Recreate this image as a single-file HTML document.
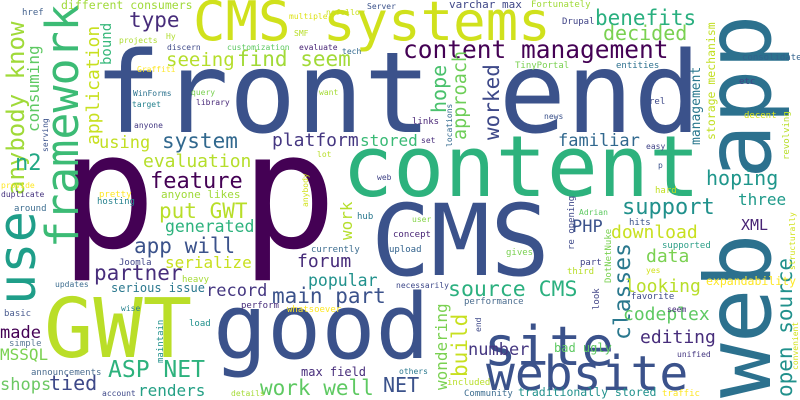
<!DOCTYPE html>
<html><head><meta charset="utf-8"><style>
html,body{margin:0;padding:0;background:#fff;}
svg{display:block;}
text{font-family:"DejaVu Sans Mono","Liberation Mono",monospace;}
</style></head><body>
<svg id="cloud" width="800" height="400" viewBox="0 0 800 400"></svg>
<script>
// word, font size, x, baseline y, color, rotated(1 = vertical)
const words = ["front end","p p","content","CMS","good","web app","GWT","CMS systems","site","website","use","framework","content management","anybody know","seeing","find seem","type","different consumers","benefits","decided","using","system","platform","stored","evaluation","feature","n2","anyone likes","consuming","application","bound","hope","approach","worked","management","storage mechanism","familiar","hoping","support","three","PHP","XML","download","data","classes","source CMS","looking","codeplex","editing","number","bad ugly","wondering","build","open source","put GWT","generated","work","app will","serialize","forum","partner","popular","serious issue","record","main part","made","MSSQL","ASP NET","max field","shops","tied","renders","work well","NET","traditionally stored","href","nofollow","Server","multiple","SMF","Hy","projects","discern","customization","evaluate","tech","Graffiti","WinForms","query","want","library","target","anyone","lot","web","provide","duplicate","pretty","anybody","serving","varchar max","Fortunately","Drupal","consolidate","TinyPortal","entities","etc","rel","decent","revolving","links","news","locations","set","easy","p","hard","user","concept","upload","re opening","Adrian","hits","structurally","supported","gives","part","DotNetNuke","third","yes","convenient","necessarily","expandability","performance","look","favorite","seem","end","unified","others","included","Community","traffic","around","hosting","currently","Joomla","heavy","updates","basic","wise","perform","whatsoever","load","simple","maintain","announcements","account","details","hub"];
const sizes = [112,160,85,99,90,91,82,54,54,48,52,45,24.5,24,19,21,21,11.5,21,20,17,21,18,16,18,22,22,11,16,18,14,20,18.5,21,13,11.5,17,20,22,16,17,15,18,18,23,21.5,18,18,18,17,12,16,21,21,21,16.5,16,21,16,18,21,16.5,12,17,21,17,16,23,12,17,20,16,21,20,11.5,9,8,8,8,8,8,8,8,8,8,8,8,8,8,8,8,8,8,8,8,8,8,9,8,8,11,9,9,9,9,9,9,9,9,9,9,8,8,8,8,8,9,8,9,9,9,8,9,8,9,9,9,9,9,8,8,8,11.5,9,9,9,8,8,8,8,9,9,9,9,9,9,9,9,8,9,8,9,9,9,9,9,9,8,8,9,9,9,8];
const xs = [94,60,342,371,213,770,44,193,484,486,35,78,403,24,166,237,129,61,595,603,99,162,272,360,143,150,15,161,39,99,111,446,466,499,700,715,558,706,622,738,572,741,611,646,630,448,625,623,640,468,554,447,467,792,159,165,352,134,165,297,94,308,111,206,272,0,0,108,301,0,49,138,260,383,518,22,326,367,289,294,166,119,167,227,299,342,137,133,191,319,196,132,134,317,377,1,1,99,308,48,449,531,562,742,515,616,739,649,744,789,412,544,452,421,646,658,655,412,393,389,574,579,629,795,662,506,580,611,567,646,798,396,706,464,599,631,667,481,677,399,447,464,662,14,97,311,119,182,55,4,121,241,287,189,9,163,31,102,231,357];
const ys = [132,247,196,275,358,398,357,40,365,390,305,248,58,195,66,66,27,9,25,40,148,148,146,146,167,188,170,198,132,145,65,113,140,140,145,140,146,185,214,205,232,230,238,262,340,296,292,320,343,355,352,390,377,397,218,232,240,253,268,267,280,286,292,296,303,338,360,377,376,390,390,396,395,392,396,15,15,9,19,36,39,43,50,50,50,54,72,96,95,95,105,107,128,157,180,188,197,197,207,152,8,7,24,60,68,68,84,104,118,160,124,119,147,143,149,168,193,222,237,252,250,215,225,270,248,255,265,283,274,273,370,288,285,304,310,299,312,332,357,374,385,396,396,211,204,252,265,282,287,316,311,308,312,326,346,363,375,396,396,219];
const colors = ["#3b528b","#440154","#2db27d","#3b528b","#3b528b","#2c718e","#bade28","#d0e11c","#3b528b","#3b528b","#1f9e89","#3cbb75","#440154","#a0da39","#b5de2b","#a2da37","#472c7a","#a0da39","#29af7f","#7ad151","#c2df23","#31688e","#453781","#3aba76","#b5de2b","#440154","#22a884","#a0da39","#5ec962","#c8e020","#35b779","#4ac16d","#6ece58","#3e4989","#2a788e","#c2df23","#31688e","#1f968b","#21918c","#1f9a8a","#3b528b","#482475","#c8e020","#7ad151","#2a788e","#2bb07f","#b8de29","#5ec962","#472d7b","#453781","#5ec962","#7ad151","#c8e020","#21918c","#b8de29","#2db27d","#b5de2b","#3b528b","#c8e020","#472c7a","#472d7b","#21918c","#2a788e","#453781","#3b528b","#440154","#7ad151","#2db27d","#472d7b","#6cc863","#3e4989","#24a085","#5ec962","#3b528b","#21918c","#46648f","#c8e020","#3b528b","#dde318","#b8de29","#b0dd2f","#addc30","#3e4989","#5ec962","#482475","#31688e","#fde725","#2c728e","#7ad151","#a5db36","#482878","#26828e","#443983","#b8de29","#414487","#fde725","#46337f","#fde725","#d2e21b","#3b528b","#3f4788","#a0da39","#414487","#33638d","#7ad151","#2d708e","#414487","#3e4989","#d8e219","#b8de29","#482475","#3b528b","#31688e","#472d7b","#414487","#3b528b","#c2df23","#86d549","#482475","#33638d","#3e4989","#5ec962","#3b528b","#d2e21b","#2d9f88","#7ad151","#414487","#7ad151","#b8de29","#d2e21b","#d2e21b","#3e4989","#fde725","#4b6d8f","#414487","#3e4989","#472d7b","#3e4989","#453781","#2a788e","#b8de29","#3e6e90","#fde725","#3e6e90","#26828e","#3e6e90","#414487","#a5db36","#3e6e90","#4b5d90","#26828e","#472d7b","#fde725","#21918c","#5c7a96","#21918c","#4b6d8f","#3e4989","#a5db36","#2a788e"];
const rotated = ["web app","use","framework","anybody know","consuming","application","bound","hope","approach","worked","management","storage mechanism","classes","wondering","build","open source","work","anybody","serving","revolving","locations","re opening","structurally","DotNetNuke","convenient","look","end","maintain"];

const svg = document.getElementById('cloud');
const NS = 'http://www.w3.org/2000/svg';
for (let i = 0; i < words.length; i++) {
  const t = document.createElementNS(NS, 'text');
  t.setAttribute('x', xs[i]);
  t.setAttribute('y', ys[i]);
  t.setAttribute('font-size', sizes[i]);
  t.setAttribute('fill', colors[i]);
  if (words[i] === 'p p') t.setAttribute('letter-spacing', -6);
  if (rotated.indexOf(words[i]) >= 0) {
    t.setAttribute('transform', 'rotate(-90 ' + xs[i] + ' ' + ys[i] + ')');
  }
  t.textContent = words[i];
  
  
  svg.appendChild(t);
}
</script>
</body></html>
